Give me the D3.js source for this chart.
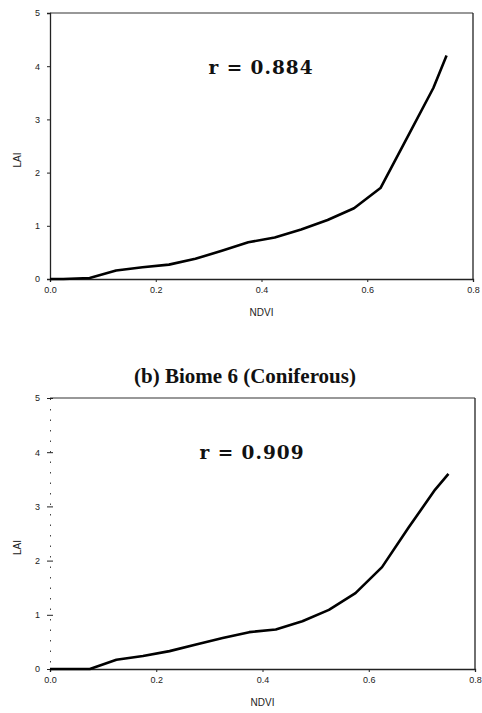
<!DOCTYPE html>
<html>
<head>
<meta charset="utf-8">
<script src="https://cdn.jsdelivr.net/npm/d3@7"></script>
<style>
  body { margin: 0; background: #fff; }
  svg { display: block; }
  .tick text { font-family: "Liberation Sans", Arial, sans-serif; font-size: 9px; fill: #222; }
  .axis-label { font-family: "Liberation Sans", Arial, sans-serif; font-size: 10px; fill: #222; }
  .r-label { font-family: "DejaVu Serif", serif; font-weight: bold; font-size: 18.5px; fill: #111; }
  .panel-title { font-family: "Liberation Serif", "Times New Roman", serif; font-weight: bold; font-size: 21px; fill: #111; }
</style>
</head>
<body>
<div id="chart"></div>
<script>
// NDVI bin centres (x) shared by both panels
const ndvi = [0, 0.025, 0.075, 0.125, 0.175, 0.225, 0.275, 0.325, 0.375, 0.425, 0.475, 0.525, 0.575, 0.625, 0.675, 0.725, 0.75];
// LAI
const laiTop = [0, 0, 0.02, 0.16, 0.22, 0.27, 0.38, 0.53, 0.69, 0.78, 0.93, 1.11, 1.33, 1.71, 2.65, 3.59, 4.2];
// LAI (Biome 6, Coniferous)
const laiConiferous = [0, 0, 0, 0.17, 0.24, 0.33, 0.45, 0.57, 0.68, 0.73, 0.88, 1.09, 1.40, 1.88, 2.61, 3.31, 3.6];

const xTicks = [0, 0.2, 0.4, 0.6, 0.8];
const yTicks = [0, 1, 2, 3, 4, 5];
const rValues = ["r = 0.884", "r = 0.909"];
const titles = ["", "(b) Biome 6 (Coniferous)"];

const width = 482, height = 713;

let svg = d3.select("#chart").append("svg")
    .attr("width", width)
    .attr("height", height);

// panel boxes (pixel positions of the plot area)
let panels = [
    {top: 13, bottom: 279, left: 50, right: 473, lai: laiTop, r: rValues[0], title: titles[0], rx: 261, ry: 67, faintY: false},
    {top: 398, bottom: 669, left: 50, right: 475, lai: laiConiferous, r: rValues[1], title: titles[1], rx: 252, ry: 452, faintY: true}
];

panels.forEach(p => {
    let xScale = d3.scaleLinear().domain([0, 0.8]).range([p.left, p.right]);
    let yScale = d3.scaleLinear().domain([0, 5]).range([p.bottom, p.top]);

    let g = svg.append("g");

    // frame: top and right edges
    g.append("line")
        .attr("x1", p.left).attr("x2", p.right)
        .attr("y1", p.top).attr("y2", p.top)
        .attr("stroke", "#333").attr("stroke-width", 1.2);
    g.append("line")
        .attr("x1", p.right).attr("x2", p.right)
        .attr("y1", p.top).attr("y2", p.bottom)
        .attr("stroke", "#222").attr("stroke-width", 1.3);

    // axes
    let xAxis = d3.axisBottom(xScale)
        .tickValues(xTicks)
        .tickSize(3)
        .tickFormat(d3.format(".1f"));
    let yAxis = d3.axisLeft(yScale)
        .tickValues(yTicks)
        .tickSize(3)
        .tickFormat(d3.format("d"));

    let xg = g.append("g")
        .attr("transform", "translate(0," + p.bottom + ")")
        .call(xAxis);
    let yg = g.append("g")
        .attr("transform", "translate(" + p.left + ",0)")
        .call(yAxis);

    [xg, yg].forEach(a => {
        a.select(".domain").attr("stroke", "#222").attr("stroke-width", 1.3);
        a.selectAll(".tick line").attr("stroke", "#222");
    });
    xg.selectAll(".tick text").attr("dy", "0.9em");
    yg.selectAll(".tick text").attr("x", -10);

    // the scanned lower panel has a broken, faint y axis with crossing ticks
    if (p.faintY) {
        yg.select(".domain")
            .attr("stroke", "#444")
            .attr("stroke-width", 1)
            .attr("stroke-dasharray", "1.5,9");
        yg.selectAll(".tick line").attr("x1", 3).attr("x2", -3);
    }

    // axis labels
    g.append("text")
        .attr("class", "axis-label")
        .attr("text-anchor", "middle")
        .attr("x", (p.left + p.right) / 2)
        .attr("y", p.bottom + 37)
        .text("NDVI");
    g.append("text")
        .attr("class", "axis-label")
        .attr("text-anchor", "middle")
        .attr("transform", "translate(21," + ((p.top + p.bottom) / 2 + 14) + ") rotate(-90)")
        .text("LAI");

    // the curve
    let line = d3.line()
        .x((d, i) => xScale(ndvi[i]))
        .y(d => yScale(d));
    g.append("path")
        .datum(p.lai)
        .attr("fill", "none")
        .attr("stroke", "#000")
        .attr("stroke-width", 2.6)
        .attr("stroke-linejoin", "round")
        .attr("d", line);

    // correlation label
    g.append("text")
        .attr("class", "r-label")
        .attr("text-anchor", "middle")
        .attr("x", p.rx)
        .attr("y", p.ry + 7)
        .style("letter-spacing", "1px")
        .text(p.r);

    if (p.title) {
        g.append("text")
            .attr("class", "panel-title")
            .attr("text-anchor", "middle")
            .attr("x", 245)
            .attr("y", p.top - 15)
            .text(p.title);
    }
});
</script>
</body>
</html>
